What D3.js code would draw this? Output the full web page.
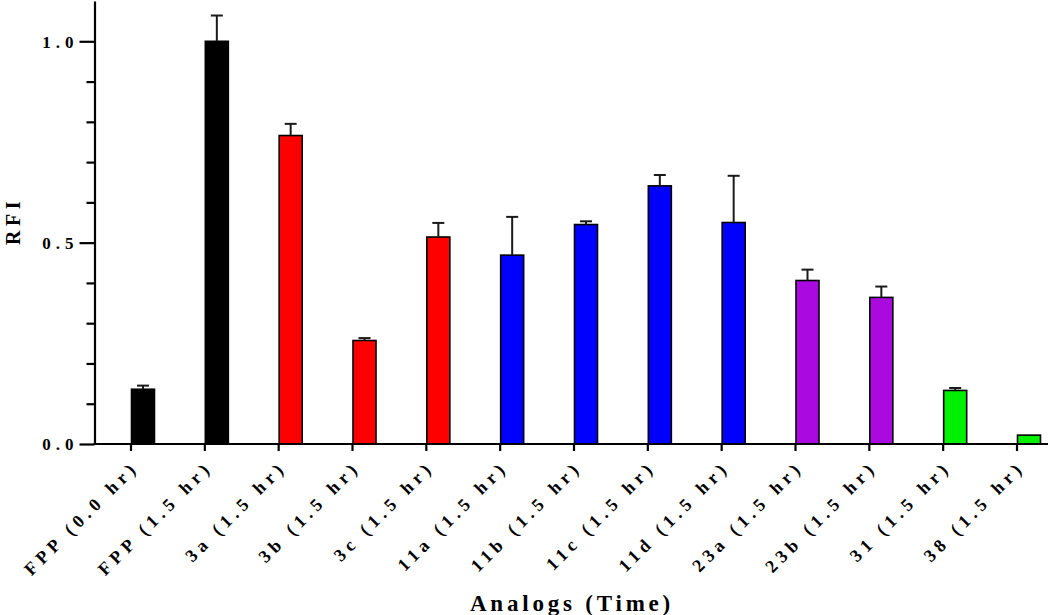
<!DOCTYPE html>
<html>
<head>
<meta charset="utf-8">
<script src="https://cdn.jsdelivr.net/npm/d3@7"></script>
<style>
  body { margin: 0; background: #fff; }
  svg { display: block; }
  text { font-family: "Liberation Serif", "Times New Roman", serif; font-weight: bold; fill: #000; }
</style>
</head>
<body>
<svg id="chart" width="1050" height="615"></svg>
<script>
const categories = ["FPP (0.0 hr)", "FPP (1.5 hr)", "3a (1.5 hr)", "3b (1.5 hr)", "3c (1.5 hr)",
  "11a (1.5 hr)", "11b (1.5 hr)", "11c (1.5 hr)", "11d (1.5 hr)", "23a (1.5 hr)",
  "23b (1.5 hr)", "31 (1.5 hr)", "38 (1.5 hr)"];
const values = [0.136, 1.0, 0.766, 0.257, 0.514, 0.469, 0.545, 0.641, 0.550, 0.406, 0.364, 0.133, 0.022];
const errors = [0.009, 0.064, 0.029, 0.006, 0.035, 0.095, 0.008, 0.027, 0.116, 0.027, 0.027, 0.006, 0.0];
const groups = ["FPP", "FPP", "3", "3", "3", "11", "11", "11", "11", "23", "23", "31/38", "31/38"];
const groupColors = { "FPP": "#000000", "3": "#ff0000", "11": "#0000ff", "23": "#aa0ae0", "31/38": "#00f000" };
const yTicks = [0, 0.1, 0.2, 0.3, 0.4, 0.5, 0.6, 0.7, 0.8, 0.9, 1.0];
const yMajor = [0, 0.5, 1.0];
const yTitle = "RFI";
const xTitle = "Analogs (Time)";

const svg = d3.select("#chart");
const axisX0 = 94.5, baseY = 444;

const y = d3.scaleLinear().domain([0, 1.1]).range([baseY, baseY - 1.1 * 402.7]);
const x = d3.scalePoint().domain(categories).range([130.5, 1016.5]);
const barW = 23;

// bars
svg.append("g").selectAll("rect").data(categories).join("rect")
  .attr("x", d => x(d) + 1)
  .attr("width", barW)
  .attr("y", (d, i) => y(values[i]))
  .attr("height", (d, i) => y(0) - y(values[i]))
  .attr("fill", (d, i) => groupColors[groups[i]])
  .attr("stroke", "#000")
  .attr("stroke-width", 1.6);

// error bars
const eg = svg.append("g").attr("stroke", "#1a1a1a").attr("stroke-width", 2);
categories.forEach((c, i) => {
  if (errors[i] <= 0) return;
  const cx = x(c) + 1 + barW / 2;
  eg.append("line").attr("x1", cx).attr("x2", cx).attr("y1", y(values[i])).attr("y2", y(values[i] + errors[i]));
  eg.append("line").attr("x1", cx - 6).attr("x2", cx + 6).attr("y1", y(values[i] + errors[i])).attr("y2", y(values[i] + errors[i]));
});

// y axis
const yAxis = d3.axisLeft(y).tickValues(yTicks).tickSizeOuter(0)
  .tickFormat(d => yMajor.some(m => Math.abs(m - d) < 1e-9) ? d3.format(".1f")(d) : "");
const gy = svg.append("g").attr("transform", `translate(${axisX0},0)`).call(yAxis);
gy.select(".domain").attr("stroke", "#000").attr("stroke-width", 2.2);
gy.selectAll(".tick line").attr("stroke", "#000").attr("stroke-width", 2.2)
  .attr("x2", d => yMajor.some(m => Math.abs(m - d) < 1e-9) ? -15 : -8);
gy.selectAll(".tick text").attr("x", -16).attr("dy", "0.35em")
  .style("font-size", "17px").style("letter-spacing", "5px")
  .style("font-family", "'Liberation Serif', serif").style("font-weight", "bold");

// x axis
const xAxis = d3.axisBottom(x).tickSizeOuter(0).tickSize(7);
const gx = svg.append("g").attr("transform", `translate(0,${baseY})`).call(xAxis);
gx.select(".domain").remove();
gx.selectAll(".tick line").attr("stroke", "#000").attr("stroke-width", 2.2);
gx.selectAll(".tick text")
  .attr("text-anchor", "end")
  .attr("transform", "translate(9,24) rotate(-45)")
  .attr("x", 0).attr("y", 0).attr("dy", 0)
  .style("font-size", "18px").style("letter-spacing", "5px")
  .style("font-family", "'Liberation Serif', serif").style("font-weight", "bold");
svg.append("line").attr("x1", axisX0 - 1).attr("x2", 1048).attr("y1", baseY).attr("y2", baseY)
  .attr("stroke", "#000").attr("stroke-width", 2.2);

// titles
svg.append("text").attr("x", 572).attr("y", 611).attr("text-anchor", "middle")
  .style("font-size", "23px").style("letter-spacing", "3.8px").text(xTitle);
svg.append("text").attr("transform", "translate(20,221) rotate(-90)").attr("text-anchor", "middle")
  .style("font-size", "20px").style("letter-spacing", "4.5px").text(yTitle);
</script>
</body>
</html>
